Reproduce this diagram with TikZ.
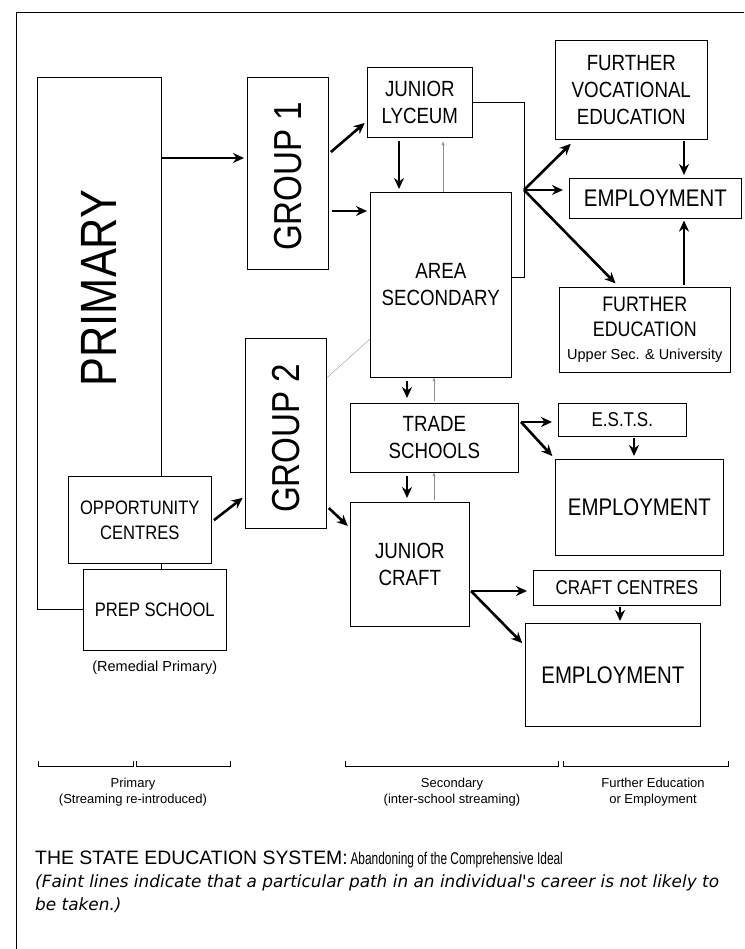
\documentclass[tikz,border=0pt]{standalone}
\usepackage{fontspec}
\setmainfont{Liberation Sans}
\newfontfamily\cond[FakeStretch=0.85]{Liberation Sans}
\newfontfamily\narrowf[FakeStretch=0.7]{Liberation Sans}
\newfontfamily\itfont{DejaVu Sans}
\usetikzlibrary{arrows.meta,calc}
\begin{document}
\begin{tikzpicture}[x=1pt,y=-1pt,
 box/.style={draw, line width=0.6pt, inner sep=0pt, align=center, anchor=north west,
   font=\cond\fontsize{22}{27}\selectfont},
 arr/.style={line width=2.6pt, -{Stealth[length=11pt,width=10pt]}, shorten <=3pt, shorten >=3pt},
 faint/.style={line width=0.35pt, black!45, -{Stealth[length=4pt,width=3pt]}},
 faintline/.style={line width=0.35pt, black!45},
 thinline/.style={line width=0.6pt},
 scaleline/.style={line width=0.5pt},
 lbl/.style={font=\fontsize{13}{16}\selectfont, align=center, inner sep=0pt},
 ]
\useasboundingbox (0,0) rectangle (744,949);
% frame
\draw[line width=0.7pt] (744,12) -- (16,12) -- (16,949);

% boxes
\node[draw=none, minimum width=124pt, minimum height=532pt, anchor=north west, inner sep=0pt] (prim) at (37,77) {};
\node[rotate=90, font=\cond\fontsize{51}{51}\selectfont, inner sep=0pt] (primtxt) at (99,288) {PRIMARY};
\node[box, minimum width=81pt, minimum height=192pt] (g1) at (247,77) {};
\node[rotate=90, font=\cond\fontsize{39}{39}\selectfont, inner sep=0pt] at ([yshift=-3pt]g1.center) {GROUP 1};
\node[box, minimum width=81pt, minimum height=190pt] (g2) at (245,338) {};
\node[rotate=90, font=\cond\fontsize{39}{39}\selectfont, inner sep=0pt] at ([yshift=-5pt]g2.center) {GROUP 2};
\node[box, minimum width=105pt, minimum height=70pt] (lyc) at (367,67) {JUNIOR\\LYCEUM};
\node[box, minimum width=141pt, minimum height=185pt] (area) at (370,192) {AREA\\SECONDARY};
\node[box, minimum width=152pt, minimum height=99pt] (fve) at (555,40) {FURTHER\\VOCATIONAL\\EDUCATION};
\node[box, minimum width=172pt, minimum height=40pt, font=\cond\fontsize{24}{27}\selectfont] (emp1) at (569,178) {EMPLOYMENT};
\node[box, minimum width=171pt, minimum height=85pt, font=\cond\fontsize{21}{25}\selectfont] (fe) at (559,287)
  {FURTHER\\EDUCATION\\[-2pt]{\rmfamily\fontsize{14.5}{16}\selectfont Upper Sec. \& University}};
\node[box, minimum width=168pt, minimum height=69pt] (trade) at (350,403) {TRADE\\SCHOOLS};
\node[box, minimum width=119pt, minimum height=124pt] (craft) at (350,502) {JUNIOR\\CRAFT};
\node[box, minimum width=128pt, minimum height=33pt, font=\cond\fontsize{20}{24}\selectfont] (ests) at (558,403) {E.S.T.S.};
\node[box, minimum width=168pt, minimum height=96pt, font=\cond\fontsize{24}{27}\selectfont] (emp2) at (555,459) {EMPLOYMENT};
\node[box, minimum width=187pt, minimum height=35pt, font=\cond\fontsize{20}{24}\selectfont] (cc) at (533,570) {CRAFT CENTRES};
\node[box, minimum width=175pt, minimum height=103pt, font=\cond\fontsize{24}{27}\selectfont] (emp3) at (525,623) {EMPLOYMENT};
\node[box, minimum width=143pt, minimum height=87pt, font=\cond\fontsize{19.5}{25}\selectfont] (opp) at (68,476) {OPPORTUNITY\\CENTRES};
\node[box, minimum width=143pt, minimum height=81pt, font=\cond\fontsize{19.5}{25}\selectfont] (prep) at (83,569) {PREP SCHOOL};
\node[lbl, anchor=north, font=\fontsize{14.5}{16}\selectfont] (rem) at (prep.south |- 0,661) {(Remedial Primary)};

% primary outline
\draw[thinline] (opp.north -| prim.east) -- (prim.north east) -- (prim.north west) -- (prim.south west) -- (prep.west |- prim.south);
\draw[thinline] (opp.south -| prim.east) -- (prep.north -| prim.east);

% fan points
\coordinate (fan) at (524,190);
\coordinate (t0) at (521,422);
\coordinate (c0) at (471,591);

% arrows
\draw[arr, shorten <=0pt] (prim.east |- 0,158) -- (g1.west |- 0,158);
\draw[arr] (g1.east |- 0,154) -- (lyc.west |- 0,121);
\draw[arr] (g1.east |- 0,211) -- (area.west |- 0,211);
\draw[faintline] (g2.east |- 0,378) -- (area.west |- 0,339);
\draw[arr] (opp.east |- 0,522) -- (g2.west |- 0,496);
\draw[arr] (g2.east |- 0,506) -- (craft.west |- 0,528);
\draw[arr] (lyc.south -| 399,0) -- (area.north -| 399,0);
\draw[faint, shorten >=4pt] (area.north -| 443,0) -- (lyc.south -| 443,0);
\draw[thinline] (lyc.east |- 0,102) -- (524,102) -- (524,277) -- (area.east |- 0,277);
\draw[arr, shorten <=0pt, shorten >=6pt] (fan) -- (fve.south -| 575,0);
\draw[arr, shorten <=0pt, shorten >=6pt] (fan) -- (emp1.west |- fan);
\draw[arr, shorten <=0pt, shorten >=5pt] (fan) -- (fe.north -| 619,0);
\draw[arr, shorten <=1pt, shorten >=3pt] (fve.south -| 684,0) -- (emp1.north -| 684,0);
\draw[arr, shorten <=2pt, shorten >=2pt] (fe.north -| 684,0) -- (emp1.south -| 684,0);
\draw[arr, shorten <=3pt, shorten >=5pt] (area.south -| 407,0) -- (trade.north -| 407,0);
\draw[faint, shorten <=2pt] (trade.north -| 434,0) -- (area.south -| 434,0);
\draw[arr, shorten <=3pt, shorten >=4pt] (trade.south -| 407,0) -- (craft.north -| 407,0);
\draw[faint, shorten <=2pt] (craft.north -| 434,0) -- (trade.south -| 434,0);
\draw[arr, shorten <=0pt, shorten >=6pt] (t0) -- (ests.west |- t0);
\draw[arr, shorten <=0pt, shorten >=4pt] (t0) -- (emp2.north west);
\draw[arr, shorten <=1pt, shorten >=3pt] (ests.south -| 634,0) -- (emp2.north -| 634,0);
\draw[arr, shorten <=0pt, shorten >=6pt] (c0) -- (cc.west |- c0);
\draw[arr, shorten <=0pt, shorten >=4pt] (c0) -- (emp3.west |- 0,646);
\draw[arr, shorten <=1pt, shorten >=2pt] (cc.south -| 620,0) -- (emp3.north -| 620,0);

% bottom scale
\foreach \a/\b in {38/133, 136/230, 345/558, 563/728}{
  \draw[scaleline] (\a,766) -- (\b,766);
  \draw[scaleline] (\a,761) -- (\a,767);
  \draw[scaleline] (\b,761) -- (\b,767);
}
\node[lbl] (sp) at (133,792) {Primary\\(Streaming re-introduced)};
\node[lbl] (ss) at (452,792) {Secondary\\(inter-school streaming)};
\node[lbl] (sf) at (653,792) {Further Education\\or Employment};

% caption
\node[anchor=base west, inner sep=0pt] (cap1) at (35,864)
  {{\fontsize{19.4}{18}\selectfont THE STATE EDUCATION SYSTEM:} {\narrowf\fontsize{17}{18}\selectfont Abandoning of the Comprehensive Ideal}};
\node[anchor=base west, inner sep=0pt] (cap2) at (35,887)
  {\itfont\itshape\fontsize{16.9}{16}\selectfont (Faint lines indicate that a particular path in an individual's career is not likely to};
\node[anchor=base west, inner sep=0pt] (cap3) at (35,910)
  {\itfont\itshape\fontsize{16.9}{16}\selectfont be taken.)};
\end{tikzpicture}
\end{document}
